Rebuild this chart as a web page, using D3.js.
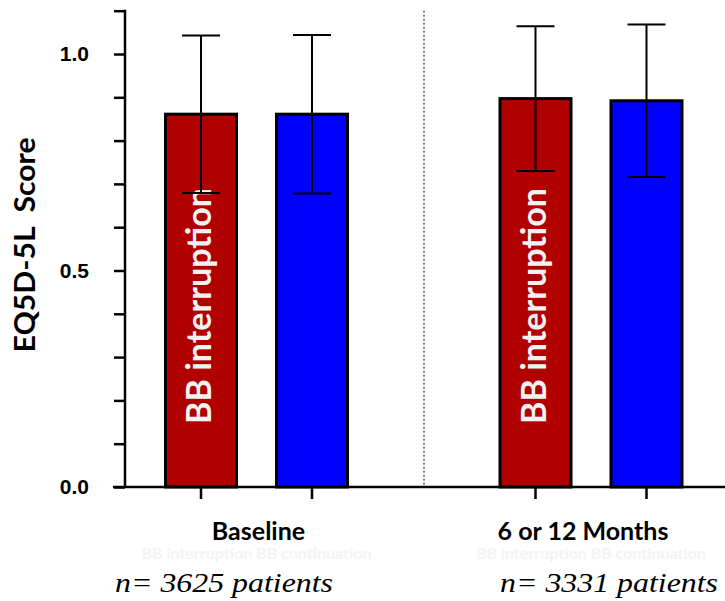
<!DOCTYPE html>
<html><head><meta charset="utf-8">
<script src="https://cdn.jsdelivr.net/npm/d3@7"></script>
<style>body{margin:0;background:#fff}svg{display:block}</style>
</head><body>
<svg id="chart" width="725" height="601"></svg>
<script>
const groups = ["Baseline", "6 or 12 Months"];
const series = ["BB interruption", "BB continuation"];
const colors = ["#B00000", "#0000FF"];
const means = [[0.861, 0.861], [0.897, 0.892]];
const sds = [[0.182, 0.183], [0.167, 0.176]];
const nLabels = ["n= 3625 patients", "n= 3331 patients"];
const yTicks = [0.0, 0.5, 1.0];
const yMinor = [0.1, 0.2, 0.3, 0.4, 0.6, 0.7, 0.8, 0.9, 1.1];

const svg = d3.select("#chart");
const y0 = 487, pxPerUnit = 433;
const y = d3.scaleLinear().domain([0, 1.1]).range([y0, y0 - 1.1 * pxPerUnit]);
const xg = d3.scalePoint().domain(groups).range([256.5, 591]);
const xs = d3.scalePoint().domain(series).range([-55.5, 55.5]);
const barW = 71, capW = 38;

const data = [];
groups.forEach((g, gi) => series.forEach((s, si) => data.push({g, s, si, m: means[gi][si], sd: sds[gi][si]})));

svg.append("line").attr("x1", 424).attr("x2", 424).attr("y1", y(1.1)).attr("y2", y0)
  .attr("stroke", "#000").attr("stroke-width", 1).attr("stroke-dasharray", "2,2");

const cx = d => xg(d.g) + xs(d.s);
svg.selectAll("rect.bar").data(data).join("rect").attr("class", "bar")
  .attr("x", d => cx(d) - barW / 2).attr("width", barW)
  .attr("y", d => y(d.m)).attr("height", d => y0 - y(d.m))
  .attr("fill", d => colors[d.si]).attr("stroke", "#000").attr("stroke-width", 3);

svg.selectAll("text.barlab").data(data.filter(d => d.si === 0)).join("text").attr("class", "barlab")
  .attr("transform", d => `translate(${cx(d) + 10},${306}) rotate(-90)`)
  .attr("text-anchor", "middle").attr("fill", "#f2f2f2")
  .attr("font-family", "Lato, 'Open Sans', sans-serif").attr("font-weight", "bold").attr("font-size", 34)
  .attr("textLength", 236).attr("lengthAdjust", "spacingAndGlyphs")
  .text(d => d.s);

const eb = svg.append("g").attr("stroke", "#000").attr("stroke-width", 2);
data.forEach(d => {
  eb.append("line").attr("x1", cx(d)).attr("x2", cx(d)).attr("y1", y(d.m + d.sd)).attr("y2", y(d.m - d.sd));
  eb.append("line").attr("x1", cx(d) - capW / 2).attr("x2", cx(d) + capW / 2).attr("y1", y(d.m + d.sd)).attr("y2", y(d.m + d.sd));
  eb.append("line").attr("x1", cx(d) - capW / 2).attr("x2", cx(d) + capW / 2).attr("y1", y(d.m - d.sd)).attr("y2", y(d.m - d.sd));
});

const yAxisG = svg.append("g").attr("transform", "translate(125,0)");
yAxisG.call(d3.axisLeft(y).tickValues(yTicks).tickFormat(d3.format(".1f")).tickSize(11).tickPadding(25));
yAxisG.append("g").call(d3.axisLeft(y).tickValues(yMinor).tickFormat("").tickSize(11));
yAxisG.selectAll(".domain").remove();
yAxisG.selectAll("line").attr("stroke", "#000").attr("stroke-width", 2.5);
yAxisG.append("line").attr("x1", 0).attr("x2", 0).attr("y1", y(1.1) - 1).attr("y2", y0 + 1).attr("stroke", "#000").attr("stroke-width", 2.5);
yAxisG.selectAll("text").attr("font-family", "'Liberation Sans', Arial, sans-serif").attr("font-weight", "bold")
  .attr("font-size", 21).attr("fill", "#000");

svg.append("line").attr("x1", 113).attr("x2", 725).attr("y1", y0).attr("y2", y0).attr("stroke", "#000").attr("stroke-width", 2.5);
svg.selectAll("line.xt").data(data).join("line").attr("class", "xt")
  .attr("x1", cx).attr("x2", cx).attr("y1", y0).attr("y2", y0 + 12)
  .attr("stroke", "#000").attr("stroke-width", 2.5);

svg.selectAll("text.grp").data(groups).join("text").attr("class", "grp")
  .attr("x", (d, i) => xg(d) + (i === 1 ? -8 : 2)).attr("y", 540).attr("text-anchor", "middle")
  .attr("font-family", "Lato, 'Open Sans', sans-serif").attr("font-weight", "bold").attr("font-size", 25)
  .text(d => d);

svg.selectAll("text.faint").data(groups).join("text").attr("class", "faint")
  .attr("x", d => xg(d)).attr("y", 559).attr("text-anchor", "middle").attr("fill", "#f4f4f4")
  .attr("font-family", "Lato, 'Open Sans', sans-serif").attr("font-weight", "bold").attr("font-size", 16)
  .text(series.join("  "));

[115, 500].forEach((xp, i) => svg.append("text").attr("x", xp).attr("y", 592)
  .attr("font-family", "'Liberation Serif', 'Times New Roman', serif")
  .attr("font-style", "italic").attr("font-size", 28).attr("textLength", 218).attr("lengthAdjust", "spacingAndGlyphs")
  .text(nLabels[i]));

svg.append("text").attr("transform", "translate(35,245) rotate(-90)").attr("text-anchor", "middle")
  .style("white-space", "pre")
  .attr("font-family", "Lato, 'Open Sans', sans-serif").attr("font-weight", "bold").attr("font-size", 29)
  .attr("textLength", 215).attr("lengthAdjust", "spacingAndGlyphs")
  .text("EQ5D-5L  Score");
</script>
</body></html>
